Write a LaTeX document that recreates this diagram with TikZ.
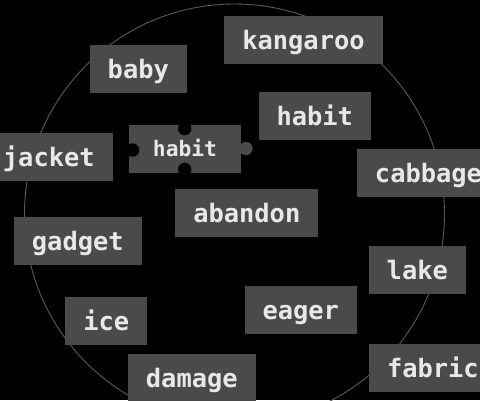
\documentclass[tikz,border=0pt]{standalone}
\usepackage{fontspec}
\setmonofont{DejaVu Sans Mono}
\definecolor{boxgray}{HTML}{4A4A4A}
\definecolor{txtgray}{HTML}{E8E8E8}
\definecolor{ringgray}{HTML}{5A5A5A}
\begin{document}
\begin{tikzpicture}[x=1pt,y=-1pt,
  word/.style={fill=boxgray, text=txtgray, inner xsep=18pt, inner ysep=0pt,
    minimum height=47.7pt, text height=19.4pt, text depth=0pt,
    font=\ttfamily\bfseries\fontsize{25.4}{30}\selectfont},
  piece/.style={fill=boxgray, text=txtgray, inner sep=0pt,
    minimum width=112pt, minimum height=47.4pt, text height=15.4pt, text depth=0pt,
    font=\ttfamily\bfseries\fontsize{21.3}{25}\selectfont},
  notch/.style={circle, fill=black, inner sep=0pt, minimum size=13.4pt},
  tab/.style={circle, fill=boxgray, inner sep=0pt, minimum size=13.4pt},
  ring/.style={draw=ringgray, line width=0.9pt}]
\useasboundingbox (0,0) rectangle (480,400);
\fill[black] (0,0) rectangle (480,400);
\node[circle, ring, minimum size=420pt, inner sep=0pt] (ring) at (234.5,214) {};
\node[word] (kangaroo) at (303.5,39.7) {kangaroo};
\node[word] (baby) at (138.3,68.8) {baby};
\node[word] (habitb) at (314.8,115.8) {habit};
\node[word] (jacket) at (48.8,156.8) {jacket};
\node[word] (cabbage) at (428.5,172.8) {cabbage};
\node[word] (abandon) at (246.8,212.7) {abandon};
\node[word] (gadget) at (77.8,240.8) {gadget};
\node[word] (lake) at (417.3,269.8) {lake};
\node[word] (eager) at (300.8,309.8) {eager};
\node[word] (ice) at (106.3,320.8) {ice};
\node[word] (damage) at (191.8,377.8) {damage};
\node[word] (fabric) at (432.9,367.8) {fabric};
% puzzle piece
\node[tab] (tabr) at (246,148.5) {};
\node[piece] (habita) at (185,149) {};
\node[notch] (notchl) at (132.6,150) {};
\node[notch] (notcht) at (184.7,128.6) {};
\node[notch] (notchb) at (184.7,169.4) {};
\node[piece, fill=none] (habitlabel) at (185,149) {habit};
\end{tikzpicture}
\end{document}
